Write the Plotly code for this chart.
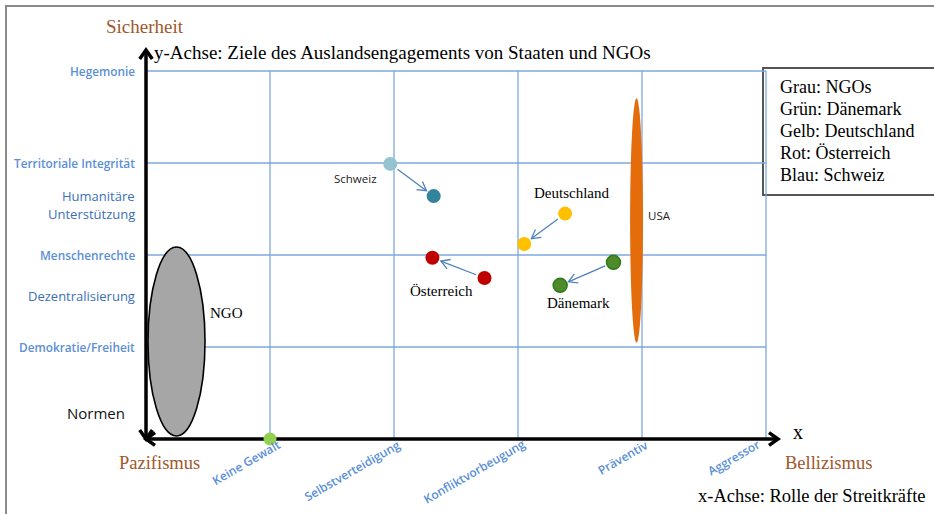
import math
import plotly.graph_objects as go

# ---------------- data ----------------
x_ticks = ["Keine Gewalt", "Selbstverteidigung", "Konfliktvorbeugung", "Präventiv", "Aggressor"]
x_tick_pos = [1, 2, 3, 4, 5]

y_main_labels = ["Demokratie/Freiheit", "Menschenrechte", "Territoriale Integrität", "Hegemonie"]
y_main_pos = [1, 2, 3, 4]
y_sub_labels = ["Dezentralisierung", "Unterstützung", "Humanitäre"]
y_sub_pos = [1.55, 2.45, 2.64]

countries = ["Schweiz", "Deutschland", "Österreich", "Dänemark"]
x_before = [1.97, 3.38, 2.73, 3.77]
y_before = [2.99, 2.45, 1.75, 1.92]
x_after = [2.32, 3.05, 2.31, 3.34]
y_after = [2.64, 2.12, 1.97, 1.67]

ngo_center = (0.246, 1.06)
ngo_half = (0.23, 1.027)
usa_center = (3.956, 2.375)
usa_half = (0.052, 1.33)

keine_gewalt_point = (1, 0)

legend_lines = ["Grau: NGOs", "Grün: Dänemark", "Gelb: Deutschland", "Rot: Österreich", "Blau: Schweiz"]

# ---------------- styling / geometry ----------------
W, H = 934, 514
SX, SY = 124.0, 92.0          # px per data unit
X0PX, Y0PX = 146.0, 439.0     # px of data origin
xr = [-X0PX / SX, (W - X0PX) / SX]
yr = [(Y0PX - H) / SY, Y0PX / SY]

SERIF = "Liberation Serif"
SANS = "Open Sans"
BROWN = "#a0582c"
TICK_BLUE = "#5b8fd8"
DARK_BLUE = "#3a70b8"
GRID = "#7ea8e0"
ARROW = "#4f81bd"
X_LABEL_SHIFTS = [16, 12, 13, 12, 0]

shapes = []
annotations = []


def seg_shape(x0, y0, x1, y1, color, width):
    return dict(type="line", xref="x", yref="y", x0=x0, y0=y0, x1=x1, y1=y1,
                line=dict(color=color, width=width), layer="below")


def arrow(x0, y0, x1, y1, color, width, head, ang, so=0.0, eo=0.0, line=True):
    dx, dy = (x1 - x0) * SX, (y1 - y0) * SY
    L = math.hypot(dx, dy)
    ux, uy = dx / L, dy / L
    sx, sy = x0 + ux * so / SX, y0 + uy * so / SY
    ex, ey = x1 - ux * eo / SX, y1 - uy * eo / SY
    if line:
        shapes.append(seg_shape(sx, sy, ex, ey, color, width))
    pts = []
    for s in (1, -1):
        a = math.radians(ang) * s
        vx, vy = -ux, -uy
        bx = vx * math.cos(a) - vy * math.sin(a)
        by = vx * math.sin(a) + vy * math.cos(a)
        pts.append((ex + bx * head / SX, ey + by * head / SY))
    path = "M{:.5f},{:.5f} L{:.5f},{:.5f} L{:.5f},{:.5f}".format(
        pts[0][0], pts[0][1], ex, ey, pts[1][0], pts[1][1])
    shapes.append(dict(type="path", xref="x", yref="y", path=path,
                       line=dict(color=color, width=width), layer="below"))


# outer frame
shapes.append(dict(type="rect", xref="paper", yref="paper", x0=6 / W, x1=1.05,
                   y0=-0.05, y1=1 - 6 / H, line=dict(color="#8a8a8a", width=2),
                   fillcolor="rgba(0,0,0,0)", layer="below"))

# grid
for yv in y_main_pos:
    shapes.append(seg_shape(0, yv, x_tick_pos[-1], yv, GRID, 1.3))
for xv in x_tick_pos:
    shapes.append(seg_shape(xv, 0, xv, y_main_pos[-1], GRID, 1.3))

# regions
shapes.append(dict(type="circle", xref="x", yref="y",
                   x0=ngo_center[0] - ngo_half[0], x1=ngo_center[0] + ngo_half[0],
                   y0=ngo_center[1] - ngo_half[1], y1=ngo_center[1] + ngo_half[1],
                   fillcolor="#a6a6a6", line=dict(color="#000000", width=1.6), layer="below"))
shapes.append(dict(type="circle", xref="x", yref="y",
                   x0=usa_center[0] - usa_half[0], x1=usa_center[0] + usa_half[0],
                   y0=usa_center[1] - usa_half[1], y1=usa_center[1] + usa_half[1],
                   fillcolor="#e46c0a", line=dict(color="#e46c0a", width=0), layer="below"))

# legend box
shapes.append(dict(type="rect", xref="paper", yref="paper", x0=763 / W, x1=1.05,
                   y0=1 - 195 / H, y1=1 - 68 / H, fillcolor="white",
                   line=dict(color="#555555", width=2), layer="below"))

# movement arrows
for i in range(len(countries)):
    arrow(x_before[i], y_before[i], x_after[i], y_after[i], ARROW, 1.3, 10, 30, so=9, eo=9)

# main axes (double-headed at origin)
x_tip = (778 - X0PX) / SX
y_tip = (Y0PX - 50) / SY
arrow(0, 0, 0, y_tip, "black", 3.5, 11, 35)
arrow(0, y_tip, 0, 0, "black", 3.5, 11, 35, line=False)
arrow(0, 0, x_tip, 0, "black", 3.5, 11, 35)
arrow(x_tip, 0, 0, 0, "black", 3.5, 11, 35, line=False)

# ---------------- traces ----------------
fig = go.Figure()
fill_colors = [["#93c4d0", "#31849b"], ["#ffc000", "#ffc000"],
               ["#c00000", "#c00000"], ["#4f8a2b", "#4f8a2b"]]
line_colors = ["rgba(0,0,0,0)", "rgba(0,0,0,0)", "rgba(0,0,0,0)", "#2c7a1a"]
for i, c in enumerate(countries):
    fig.add_trace(go.Scatter(
        x=[x_before[i], x_after[i]], y=[y_before[i], y_after[i]], mode="markers",
        name=c, marker=dict(size=14, color=fill_colors[i],
                            line=dict(color=line_colors[i], width=1.5)),
        hoverinfo="name"))
fig.add_trace(go.Scatter(x=[keine_gewalt_point[0]], y=[keine_gewalt_point[1]],
                         mode="markers", name="Keine Gewalt",
                         marker=dict(size=13, color="#92d050"), hoverinfo="name"))

# ---------------- text ----------------
def ann(text, x, y, size, color="black", family=SERIF, xanchor="center",
        yanchor="middle", weight="normal", **kw):
    annotations.append(dict(text=text, x=x, y=y, xref="x", yref="y", showarrow=False,
                            xanchor=xanchor, yanchor=yanchor,
                            font=dict(family=family, size=size, color=color, weight=weight),
                            **kw))


def px2x(p):
    return (p - X0PX) / SX


def px2y(p):
    return (Y0PX - p) / SY


for lab, yv in zip(y_main_labels, y_main_pos):
    ann(lab, 0, yv, 11.8, TICK_BLUE, SANS, xanchor="right", weight=600, xshift=-9)
for lab, yv in zip(y_sub_labels, y_sub_pos):
    ann(lab, 0, yv, 13, DARK_BLUE, SANS, xanchor="right", xshift=-9)
ann("Normen", 0, px2y(413), 15, "#111111", SANS, xanchor="right", xshift=-19)

for lab, xv, sh in zip(x_ticks, x_tick_pos, X_LABEL_SHIFTS):
    ann(lab, xv, 0, 12, TICK_BLUE, SANS, xanchor="right", yanchor="top",
        weight=600, textangle=-30, xshift=sh, yshift=6)

ann("Sicherheit", px2x(145), px2y(26), 19, BROWN)
ann("y-Achse: Ziele des Auslandsengagements von Staaten und NGOs", px2x(152), px2y(52),
    19, "black", xanchor="left")
ann("Pazifismus", px2x(159), px2y(463), 18.5, BROWN)
ann("Bellizismus", px2x(828), px2y(463), 18.5, BROWN)
ann("x", px2x(798), px2y(432), 20, "black")
ann("x-Achse: Rolle der Streitkräfte", px2x(928), px2y(496), 18.5, "black", xanchor="right")

ann("NGO", px2x(226), px2y(313), 15)
ann("USA", px2x(659), px2y(215), 11.5, "#222222", SANS)
ann("Schweiz", px2x(355), px2y(178), 11.5, "#222222", SANS)
ann("Deutschland", px2x(571), px2y(193), 15)
ann("Österreich", px2x(441), px2y(291), 15)
ann("Dänemark", px2x(578), px2y(303), 15)

for k, line in enumerate(legend_lines):
    ann(line, px2x(778), px2y(87 + 22 * k), 18, "black", xanchor="left")

fig.update_layout(
    width=W, height=H, margin=dict(l=0, r=0, t=0, b=0),
    paper_bgcolor="white", plot_bgcolor="white", showlegend=False,
    xaxis=dict(range=xr, visible=False, fixedrange=True),
    yaxis=dict(range=yr, visible=False, fixedrange=True),
    shapes=shapes, annotations=annotations,
)

fig.write_html("out.html", config={"displayModeBar": False},
               post_script="document.body.style.margin='0';document.body.style.overflow='hidden';")
